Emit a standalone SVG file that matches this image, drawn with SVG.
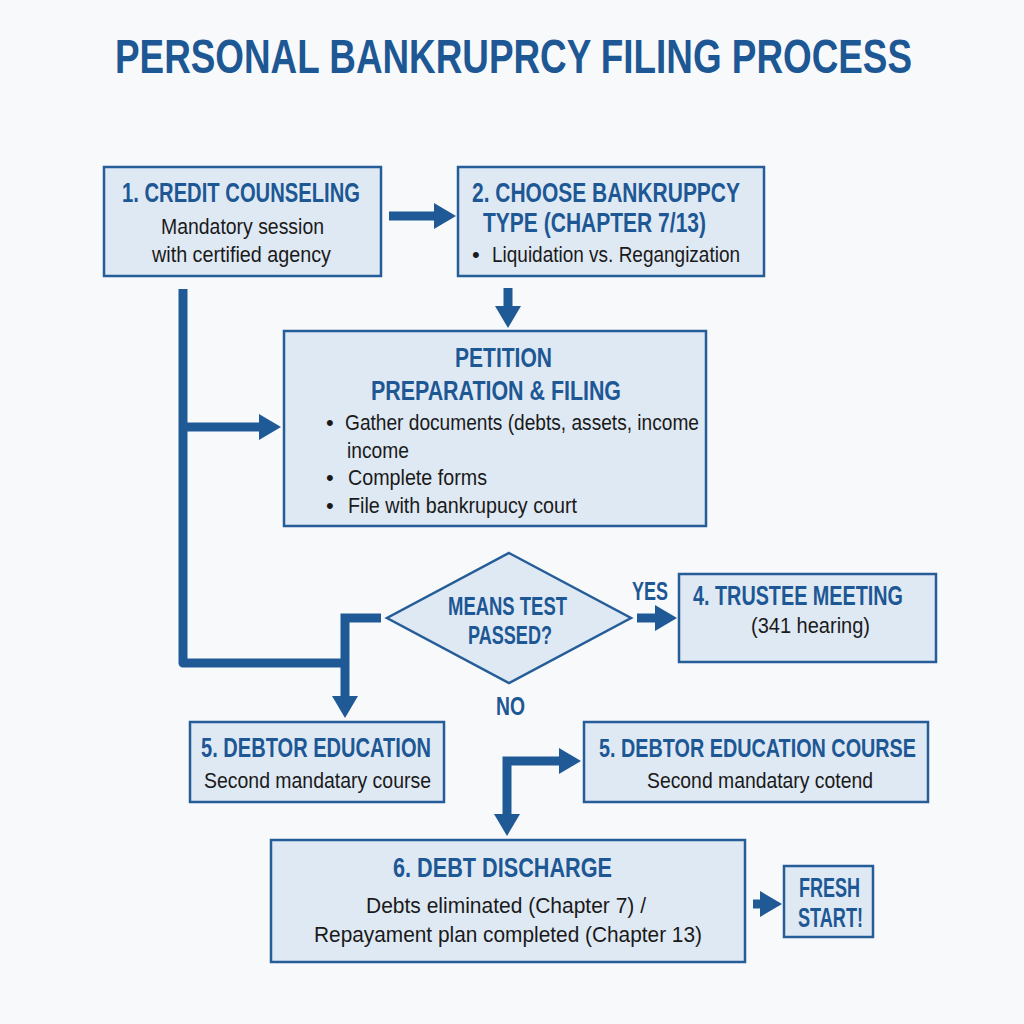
<svg xmlns="http://www.w3.org/2000/svg" width="1024" height="1024" viewBox="0 0 1024 1024">
  <style>
    .box { fill: #dfe9f4; stroke: #245d98; stroke-width: 2.5; }
    .t { font-family: "Liberation Sans Narrow", "Liberation Sans", Arial, sans-serif; }
    .h { fill: #1d5794; font-weight: bold; font-size: 20px; }
    .b { fill: #1a1a1a; font-size: 22px; }
    .title { fill: #1d5794; font-weight: bold; font-size: 40px; }
    .lbl { fill: #1d5794; font-weight: bold; font-size: 19px; }
    .conn { fill: none; stroke: #1f5a96; stroke-width: 9; stroke-linejoin: miter; }
  </style>
  <defs>
    <marker id="ah" viewBox="0 0 22 26" refX="1" refY="13" markerWidth="22" markerHeight="26" markerUnits="userSpaceOnUse" orient="auto-start-reverse">
      <path d="M0,0 L22,13 L0,26 z" fill="#1f5a96"/>
    </marker>
  </defs>
  <rect x="0" y="0" width="1024" height="1024" fill="#f8f9fb"/>

  <text class="t title" transform="translate(115,73) scale(1,1.22)" textLength="797" lengthAdjust="spacingAndGlyphs">PERSONAL BANKRUPRCY FILING PROCESS</text>

  <g id="connectors">
    <path class="conn" d="M389,216 H435" marker-end="url(#ah)"/>
    <path class="conn" d="M508,288 V307" marker-end="url(#ah)"/>
    <path class="conn" d="M183,289 V663 H349" style="stroke-linejoin:round"/>
    <path class="conn" d="M183,427 H260" marker-end="url(#ah)"/>
    <path class="conn" d="M381,618 H345 V697" marker-end="url(#ah)"/>
    <path class="conn" d="M637,618 H656" marker-end="url(#ah)"/>
    <path class="conn" d="M560,761 H507 V815" marker-start="url(#ah)" marker-end="url(#ah)"/>
    <path class="conn" d="M753,904 H761" marker-end="url(#ah)"/>
    <text class="t lbl" transform="translate(632,600) scale(1,1.35)" textLength="36" lengthAdjust="spacingAndGlyphs">YES</text>
    <text class="t lbl" transform="translate(496,715) scale(1,1.35)" textLength="29" lengthAdjust="spacingAndGlyphs">NO</text>
  </g>

  <g id="node1">
    <rect class="box" x="104" y="167" width="277" height="109"/>
    <text class="t h" transform="translate(122,202) scale(1,1.4)" textLength="238" lengthAdjust="spacingAndGlyphs">1. CREDIT COUNSELING</text>
    <text class="t b" x="161" y="234" textLength="163" lengthAdjust="spacingAndGlyphs">Mandatory session</text>
    <text class="t b" x="152" y="262" textLength="179" lengthAdjust="spacingAndGlyphs">with certified agency</text>
  </g>

  <g id="node2">
    <rect class="box" x="458" y="167" width="306" height="109"/>
    <text class="t h" transform="translate(472,202) scale(1,1.4)" textLength="268" lengthAdjust="spacingAndGlyphs">2. CHOOSE BANKRUPPCY</text>
    <text class="t h" transform="translate(483,232) scale(1,1.4)" textLength="223" lengthAdjust="spacingAndGlyphs">TYPE (CHAPTER 7/13)</text>
    <text class="t b" x="472" y="262">•</text>
    <text class="t b" x="492" y="262" textLength="248" lengthAdjust="spacingAndGlyphs">Liquidation vs. Regangization</text>
  </g>

  <g id="node3">
    <rect class="box" x="284" y="331" width="422" height="195"/>
    <text class="t h" transform="translate(455,367) scale(1,1.4)" textLength="97" lengthAdjust="spacingAndGlyphs">PETITION</text>
    <text class="t h" transform="translate(371,400) scale(1,1.4)" textLength="250" lengthAdjust="spacingAndGlyphs">PREPARATION &amp; FILING</text>
    <text class="t b" x="326" y="430">•</text>
    <text class="t b" x="345" y="430" textLength="354" lengthAdjust="spacingAndGlyphs">Gather documents (debts, assets, income</text>
    <text class="t b" x="347" y="458" textLength="62" lengthAdjust="spacingAndGlyphs">income</text>
    <text class="t b" x="326" y="485">•</text>
    <text class="t b" x="348" y="485" textLength="139" lengthAdjust="spacingAndGlyphs">Complete forms</text>
    <text class="t b" x="326" y="513">•</text>
    <text class="t b" x="348" y="513" textLength="229" lengthAdjust="spacingAndGlyphs">File with bankrupucy court</text>
  </g>

  <g id="decision">
    <polygon class="box" points="509,553 631,618 509,683 387,618"/>
    <text class="t h" transform="translate(448,615) scale(1,1.4)" textLength="119" lengthAdjust="spacingAndGlyphs" style="font-size:19px">MEANS TEST</text>
    <text class="t h" transform="translate(468,644) scale(1,1.4)" textLength="84" lengthAdjust="spacingAndGlyphs" style="font-size:19px">PASSED?</text>
  </g>

  <g id="node4">
    <rect class="box" x="679" y="574" width="257" height="88"/>
    <text class="t h" transform="translate(693,605) scale(1,1.4)" textLength="210" lengthAdjust="spacingAndGlyphs">4. TRUSTEE MEETING</text>
    <text class="t b" x="751" y="633" textLength="119" lengthAdjust="spacingAndGlyphs">(341 hearing)</text>
  </g>

  <g id="node5a">
    <rect class="box" x="190" y="722" width="254" height="80"/>
    <text class="t h" transform="translate(201,757) scale(1,1.4)" textLength="230" lengthAdjust="spacingAndGlyphs">5. DEBTOR EDUCATION</text>
    <text class="t b" x="204" y="788" textLength="227" lengthAdjust="spacingAndGlyphs">Second mandatary course</text>
  </g>

  <g id="node5b">
    <rect class="box" x="584" y="722" width="344" height="80"/>
    <text class="t h" transform="translate(599,757) scale(1,1.4)" textLength="317" lengthAdjust="spacingAndGlyphs" style="font-size:19px">5. DEBTOR EDUCATION COURSE</text>
    <text class="t b" x="647" y="788" textLength="226" lengthAdjust="spacingAndGlyphs">Second mandatary cotend</text>
  </g>

  <g id="node6">
    <rect class="box" x="271" y="840" width="474" height="122"/>
    <text class="t h" transform="translate(393,877) scale(1,1.4)" textLength="219" lengthAdjust="spacingAndGlyphs">6. DEBT DISCHARGE</text>
    <text class="t b" x="366" y="913" textLength="280" lengthAdjust="spacingAndGlyphs">Debts eliminated (Chapter 7) /</text>
    <text class="t b" x="314" y="942" textLength="388" lengthAdjust="spacingAndGlyphs">Repayament plan completed (Chapter 13)</text>
  </g>

  <g id="node7">
    <rect class="box" x="784" y="866" width="89" height="71"/>
    <text class="t h" transform="translate(799,897) scale(1,1.4)" textLength="61" lengthAdjust="spacingAndGlyphs">FRESH</text>
    <text class="t h" transform="translate(798,927) scale(1,1.4)" textLength="65" lengthAdjust="spacingAndGlyphs">START!</text>
  </g>
</svg>
